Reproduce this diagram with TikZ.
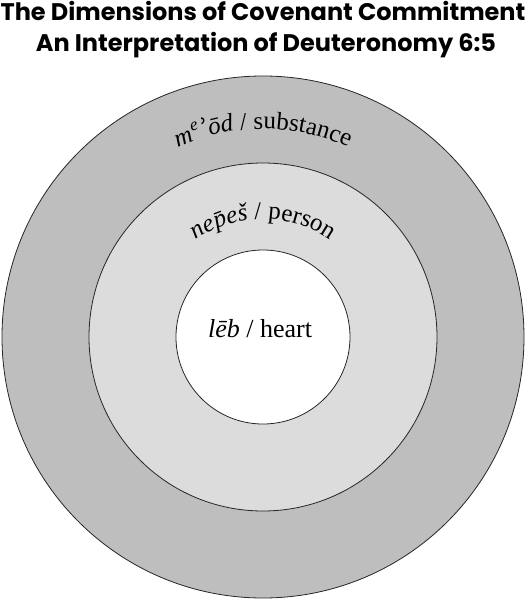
\documentclass[tikz,border=0pt]{standalone}
\usepackage{fontspec}
\setmainfont{Liberation Serif}
\newfontfamily\titlefont{Poppins}
\newfontfamily\dejaserif{DejaVu Serif}
\usetikzlibrary{decorations.text}

\definecolor{outerring}{gray}{0.745}
\definecolor{middlering}{gray}{0.863}

\begin{document}
\begin{tikzpicture}[x=1pt,y=1pt]
    \tikzset{
        ring/.style={
            circle, draw=black!85, line width=0.8pt,
            inner sep=0pt, outer sep=0pt, minimum size=#1,
        },
        heading/.style={
            font=\titlefont\bfseries\fontsize{24}{28}\selectfont,
            anchor=base, inner sep=0pt,
        },
    }

    \useasboundingbox (-263,-263) rectangle (265,337);

    % Title
    \node[heading] (title) at (0,316) {The Dimensions of Covenant Commitment};
    \node[heading] (subtitle) at (3,285) {An Interpretation of Deuteronomy 6:5};

    % Rings
    \node[ring=522pt, fill=outerring] (outer) at (0,0) {};
    \node[ring=348pt, fill=middlering] (middle) at (0,0) {};
    \node[ring=174pt, fill=white] (inner) at (0,0) {};

    % Labels
    \path[decorate, decoration={text along path, text align=center,
        text={|\fontsize{25}{28}\selectfont\itshape|m{\textsuperscript{e}}{\dejaserif ʾ}ōd|\fontsize{25}{28}\selectfont\upshape| / substance}}]
        (150:208) arc[start angle=150, end angle=30, radius=208];
    \path[decorate, decoration={text along path, text align=center,
        text={|\fontsize{25}{28}\selectfont\itshape|ne{\=p}eš|\fontsize{25}{28}\selectfont\upshape| / person}}]
        (150:118) arc[start angle=150, end angle=30, radius=118];
    \node[font=\fontsize{26}{29}\selectfont] (heart) at (-3,8) {\textit{lēb} / heart};
\end{tikzpicture}
\end{document}
